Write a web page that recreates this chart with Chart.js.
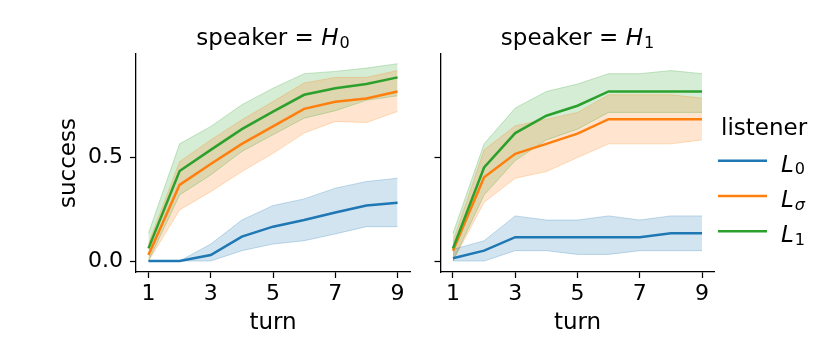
<!DOCTYPE html>
<html>
<head>
<meta charset="utf-8">
<script src="https://cdn.jsdelivr.net/npm/chart.js@4.4.1/dist/chart.umd.min.js"></script>
<style>
  html, body { margin: 0; padding: 0; background: #fff; }
  #wrap { position: relative; width: 831px; height: 361px; overflow: hidden; }
  canvas { position: absolute; top: 0; }
  #left { left: 0; }
  #right { left: 420px; }
</style>
</head>
<body>
<div id="wrap">
  <canvas id="left" width="420" height="361"></canvas>
  <canvas id="right" width="411" height="361"></canvas>
</div>
<script>
// data
const turns = [1, 2, 3, 4, 5, 6, 7, 8, 9];
const xTicks = [1, 3, 5, 7, 9];
const yTicks = [0, 0.5];
const listeners = ["0", "σ", "1"];   // L subscripts
const speakers = ["0", "1"];         // H subscripts

// speaker H0
const h0L0 = [0, 0, 0.029, 0.118, 0.166, 0.198, 0.234, 0.268, 0.282];
const h0L0Lo = [0, 0, 0, 0.05, 0.082, 0.098, 0.131, 0.166, 0.166];
const h0L0Hi = [0, 0, 0.082, 0.198, 0.268, 0.30, 0.352, 0.384, 0.40];
const h0Ls = [0.029, 0.368, 0.469, 0.566, 0.65, 0.735, 0.769, 0.785, 0.819];
const h0LsLo = [0, 0.247, 0.335, 0.432, 0.52, 0.618, 0.674, 0.669, 0.722];
const h0LsHi = [0.085, 0.48, 0.585, 0.682, 0.77, 0.86, 0.887, 0.887, 0.92];
const h0L1 = [0.061, 0.435, 0.537, 0.637, 0.722, 0.803, 0.835, 0.855, 0.887];
const h0L1Lo = [0, 0.319, 0.416, 0.529, 0.61, 0.69, 0.726, 0.776, 0.798];
const h0L1Hi = [0.134, 0.566, 0.65, 0.755, 0.835, 0.905, 0.916, 0.932, 0.953];

// speaker H1
const h1L0 = [0.013, 0.05, 0.115, 0.115, 0.115, 0.115, 0.115, 0.134, 0.134];
const h1L0Lo = [0, 0, 0.05, 0.05, 0.032, 0.032, 0.05, 0.05, 0.05];
const h1L0Hi = [0.056, 0.098, 0.218, 0.198, 0.198, 0.218, 0.198, 0.218, 0.218];
const h1Ls = [0.05, 0.405, 0.518, 0.566, 0.615, 0.685, 0.685, 0.685, 0.685];
const h1LsLo = [0, 0.284, 0.40, 0.432, 0.50, 0.566, 0.566, 0.566, 0.585];
const h1LsHi = [0.094, 0.537, 0.653, 0.685, 0.718, 0.803, 0.803, 0.803, 0.787];
const h1L1 = [0.061, 0.452, 0.618, 0.702, 0.75, 0.819, 0.819, 0.819, 0.819];
const h1L1Lo = [0, 0.319, 0.485, 0.585, 0.637, 0.718, 0.718, 0.718, 0.718];
const h1L1Hi = [0.134, 0.566, 0.739, 0.819, 0.855, 0.905, 0.905, 0.92, 0.905];

const colors = ["31,119,180", "255,127,14", "44,160,44"];
const FONT = "'DejaVu Sans', sans-serif";

Chart.defaults.font.family = FONT;
Chart.defaults.color = "#000";

function pts(arr) {
  return turns.map((t, i) => ({ x: t, y: arr[i] }));
}

// draws italic base letter with a small subscript, returns width
function mathLabel(ctx, x, y, base, sub, size, measureOnly) {
  ctx.font = "italic " + size + "px " + FONT;
  const wBase = ctx.measureText(base).width;
  const subSize = size * 0.7;
  const subFont = (sub === "σ" ? "italic " : "") + subSize + "px " + FONT;
  if (!measureOnly) ctx.fillText(base, x, y);
  ctx.font = subFont;
  const wSub = ctx.measureText(sub).width;
  if (!measureOnly) ctx.fillText(sub, x + wBase + 1, y + size * 0.12);
  return wBase + 1 + wSub;
}

const panelTitle = {
  id: "panelTitle",
  afterDraw(chart, args, opts) {
    const { ctx, chartArea } = chart;
    const size = 23;
    const prefix = "speaker = ";
    ctx.save();
    ctx.fillStyle = "#000";
    ctx.textBaseline = "alphabetic";
    ctx.textAlign = "left";
    ctx.font = size + "px " + FONT;
    const w1 = ctx.measureText(prefix).width;
    const w2 = mathLabel(ctx, 0, 0, "H", opts.sub, size, true);
    let x = (chartArea.left + chartArea.right) / 2 - (w1 + w2) / 2;
    ctx.font = size + "px " + FONT;
    ctx.fillText(prefix, x, 45);
    mathLabel(ctx, x + w1, 45, "H", opts.sub, size, false);
    ctx.restore();
  }
};

const listenerLegend = {
  id: "listenerLegend",
  afterDraw(chart) {
    const ctx = chart.ctx;
    const off = 420;
    ctx.save();
    ctx.fillStyle = "#000";
    ctx.textBaseline = "alphabetic";
    ctx.textAlign = "left";
    ctx.font = "23px " + FONT;
    ctx.fillText("listener", 721 - off, 135);
    listeners.forEach((sub, k) => {
      const y = 160.7 + k * 35.3;
      ctx.strokeStyle = "rgb(" + colors[k] + ")";
      ctx.lineWidth = 2.5;
      ctx.beginPath();
      ctx.moveTo(718 - off, y);
      ctx.lineTo(767 - off, y);
      ctx.stroke();
      mathLabel(ctx, 781 - off, y + 11, "L", sub, 23, false);
    });
    ctx.restore();
  }
};

function makePanel(canvasId, series, sub, isLeft) {
  const datasets = [];
  series.forEach((s, k) => {
    const c = colors[k];
    datasets.push({
      data: pts(s.hi), borderColor: "rgba(" + c + ",0.25)", borderWidth: 1,
      pointRadius: 0, fill: false, order: 10
    });
    datasets.push({
      data: pts(s.lo), borderColor: "rgba(" + c + ",0.25)", borderWidth: 1,
      backgroundColor: "rgba(" + c + ",0.2)", pointRadius: 0, fill: "-1", order: 10
    });
    datasets.push({
      data: pts(s.mean), borderColor: "rgb(" + c + ")", borderWidth: 2.5,
      pointRadius: 0, fill: false, order: 3 - k
    });
  });

  const plugins = [panelTitle];
  if (!isLeft) plugins.push(listenerLegend);

  return new Chart(document.getElementById(canvasId), {
    type: "line",
    data: { datasets: datasets },
    plugins: plugins,
    options: {
      responsive: false,
      animation: false,
      devicePixelRatio: 1,
      layout: { padding: { left: 0, top: 54, right: isLeft ? 10 : 116.5, bottom: 0 } },
      plugins: {
        legend: { display: false },
        tooltip: { enabled: false },
        filler: { drawTime: "beforeDatasetsDraw" },
        panelTitle: { sub: sub }
      },
      scales: {
        x: {
          type: "linear",
          min: 0.6,
          max: 9.4,
          afterBuildTicks: (scale) => { scale.ticks = xTicks.map(v => ({ value: v })); },
          afterFit: (scale) => { scale.height = 89; },
          ticks: { autoSkip: false, padding: 3, font: { size: 22 }, maxRotation: 0,
                   callback: (v) => String(v) },
          grid: { drawOnChartArea: false, drawTicks: true, tickLength: 6,
                  tickColor: "#000", tickWidth: 1.25 },
          border: { color: "#000", width: 1.3 },
          title: { display: true, text: "turn", font: { size: 23 },
                   padding: { top: 0, bottom: 24 } }
        },
        y: {
          type: "linear",
          min: -0.053,
          max: 1.0,
          afterBuildTicks: (scale) => { scale.ticks = yTicks.map(v => ({ value: v })); },
          afterFit: (scale) => { scale.width = isLeft ? 136 : 20.5; },
          ticks: { display: isLeft, padding: 7, font: { size: 22 },
                   callback: (v) => v.toFixed(1) },
          grid: { drawOnChartArea: false, drawTicks: true, tickLength: 6,
                  tickColor: "#000", tickWidth: 1.25 },
          border: { color: "#000", width: 1.3 },
          title: { display: isLeft, text: "success", font: { size: 23 },
                   padding: { top: 55, bottom: 0 } }
        }
      }
    }
  });
}

makePanel("left", [
  { mean: h0L0, lo: h0L0Lo, hi: h0L0Hi },
  { mean: h0Ls, lo: h0LsLo, hi: h0LsHi },
  { mean: h0L1, lo: h0L1Lo, hi: h0L1Hi }
], speakers[0], true);

makePanel("right", [
  { mean: h1L0, lo: h1L0Lo, hi: h1L0Hi },
  { mean: h1Ls, lo: h1LsLo, hi: h1LsHi },
  { mean: h1L1, lo: h1L1Lo, hi: h1L1Hi }
], speakers[1], false);
</script>
</body>
</html>
